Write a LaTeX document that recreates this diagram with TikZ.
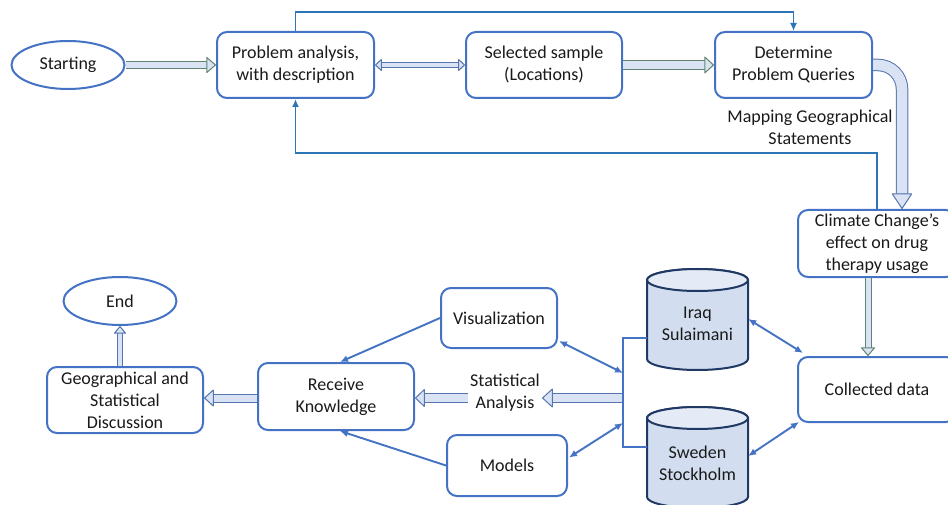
\documentclass[tikz,border=0pt]{standalone}
\usepackage{fontspec}
\setmainfont{Carlito}
\usetikzlibrary{arrows.meta,calc,shapes.geometric}
\definecolor{boxblue}{HTML}{4472C4}
\definecolor{fbblue}{HTML}{2E75B6}
\definecolor{cylline}{HTML}{203864}
\definecolor{cylfill}{HTML}{D2DEEF}
\definecolor{cyltop}{HTML}{E4EBF6}
\definecolor{afill}{HTML}{DAE3F3}
\definecolor{agreen}{HTML}{5F8571}
\definecolor{ablue}{HTML}{5575AE}
\definecolor{txt}{HTML}{1A1A1A}
\begin{document}
\begin{tikzpicture}[x=1pt,y=-1pt,
  font=\fontsize{18}{22}\selectfont,
  box/.style={draw=boxblue, line width=2pt, rounded corners=10pt, fill=white,
    align=center, text=txt, inner sep=0pt},
  oval/.style={draw=boxblue, line width=2pt, ellipse, fill=white, text=txt,
    inner sep=0pt, minimum width=113pt, minimum height=48pt},
  plain/.style={align=center, text=txt, inner sep=2pt},
  cyl/.style={draw=cylline, line width=2pt, fill=cylfill},
  conn/.style={draw=boxblue, line width=1.9pt},
  fb/.style={draw=fbblue, line width=1.9pt},
  thintip/.style={-{Latex[length=8pt,width=7pt]}},
  bothtip/.style={{Latex[length=8pt,width=7pt]}-{Latex[length=8pt,width=7pt]}},
  hollow/.style n args={4}{draw=#1, line width=1pt, double=afill, double distance=#2,
    -{Triangle[fill=afill, line width=1pt, length=#3, width=#4, round]}},
  hollowboth/.style n args={4}{draw=#1, line width=1pt, double=afill, double distance=#2,
    {Triangle[fill=afill, line width=1pt, length=#3, width=#4, round]}-{Triangle[fill=afill, line width=1pt, length=#3, width=#4, round]}}
]
\useasboundingbox (0,0) rectangle (948,505);

% cylinders
\coordinate (iraqc) at (697.5,324);
\coordinate (swec) at (697.5,463);
\draw[cyl] ($(iraqc)+(-50.5,-44)$) -- ($(iraqc)+(-50.5,35)$)
  arc[start angle=180, end angle=0, x radius=50.5, y radius=11]
  -- ($(iraqc)+(50.5,-44)$)
  arc[start angle=0, end angle=-180, x radius=50.5, y radius=11] -- cycle;
\draw[cyl, fill=cyltop] ($(iraqc)+(0,-44)$) ellipse[x radius=50.5, y radius=11];
\draw[cyl] ($(swec)+(-50.5,-45)$) -- ($(swec)+(-50.5,34)$)
  arc[start angle=180, end angle=0, x radius=50.5, y radius=11]
  -- ($(swec)+(50.5,-45)$)
  arc[start angle=0, end angle=-180, x radius=50.5, y radius=11] -- cycle;
\draw[cyl, fill=cyltop] ($(swec)+(0,-45)$) ellipse[x radius=50.5, y radius=11];

% nodes
\node[oval] (start) at (68,65) {Starting};
\node[box, minimum width=157pt, minimum height=66pt] (prob) at (295.5,65) {Problem analysis,\\with description};
\node[box, minimum width=156pt, minimum height=66pt] (sel) at (544,65) {Selected sample\\(Locations)};
\node[box, minimum width=157pt, minimum height=66pt] (det) at (793.5,65) {Determine\\Problem Queries};
\node[plain] (map) at (810,127) {Mapping Geographical\\Statements};
\node[box, minimum width=158pt, minimum height=67pt] (clim) at (877,243.5) {Climate Change’s\\effect on drug\\therapy usage};
\node[box, minimum width=158pt, minimum height=65pt] (coll) at (877,389.5) {Collected data};
\node[plain, minimum width=101pt, minimum height=80pt, inner sep=0pt] (iraq) at (iraqc) {Iraq\\Sulaimani};
\node[plain, minimum width=101pt, minimum height=70pt, inner sep=0pt] (swe) at (swec) {Sweden\\Stockholm};
\node[box, minimum width=116pt, minimum height=60pt] (vis) at (499,318) {Visualization};
\node[box, minimum width=120pt, minimum height=61pt] (mod) at (507,465.5) {Models};
\node[plain] (stat) at (505,392.5) {Statistical\\Analysis};
\node[box, minimum width=156pt, minimum height=67pt] (rec) at (336,396.5) {Receive\\Knowledge};
\node[box, minimum width=156pt, minimum height=66pt] (geo) at (125,400) {Geographical and\\Statistical\\Discussion};
\node[oval] (end) at (120,301) {End};

% bracket coordinates
\coordinate (bt) at (623,338);
\coordinate (bb) at (623,447);
\coordinate (b1) at (623,373);
\coordinate (b2) at (623,423);
\coordinate (bs) at (623,398);

% hollow arrows
\draw[hollow={agreen}{6.4pt}{10pt}{17pt}] (start) -- (prob);
\draw[hollowboth={ablue}{4.5pt}{7pt}{13pt}] (prob) -- (sel);
\draw[hollow={agreen}{8pt}{10pt}{18pt}] (sel) -- (det);
\draw[hollow={ablue}{10.5pt}{16pt}{21pt}, rounded corners=24pt] (det.east) -| ([xshift=25pt]clim.north);
\draw[hollow={agreen}{5pt}{9pt}{15pt}] ([xshift=-9pt]clim.south) -- ([xshift=-9pt]coll.north);
\draw[hollow={ablue}{7.5pt}{11pt}{20pt}] (bs) -- (stat.east |- bs);
\draw[hollow={ablue}{7.5pt}{10pt}{19pt}] (stat.west |- bs) -- (rec.east |- bs);
\draw[hollow={ablue}{7pt}{10pt}{18pt}] (rec.west |- bs) -- (geo.east |- bs);
\draw[hollow={ablue}{4.5pt}{8pt}{13pt}] (geo.north -| end.south) -- (end.south);

% feedback lines
\draw[fb, thintip] (prob.north) -- ++(0,-19) -| (det.north);
\draw[fb, thintip] (clim.north) -- ++(0,-56) -| (prob.south);

% lower connectors
\draw[conn] (iraq.west |- bt) -- (bt) -- (bb) -- (swe.west |- bb);
\draw[conn, bothtip] ($(vis.south east)+(1,-8)$) -- (b1);
\draw[conn, bothtip] ($(mod.east)+(1,-8)$) -- (b2);
\draw[conn, bothtip] ($(iraq.east)+(0,-5)$) -- ($(coll.north west)+(6,-3)$);
\draw[conn, bothtip] ($(swe.east)+(0,-7)$) -- ($(coll.south west)+(2,-1)$);
\draw[conn, thintip] (vis.west) -- ($(rec.north)+(4,0)$);
\draw[conn, thintip] (mod.west) -- ($(rec.south)+(4,0)$);
\end{tikzpicture}
\end{document}
